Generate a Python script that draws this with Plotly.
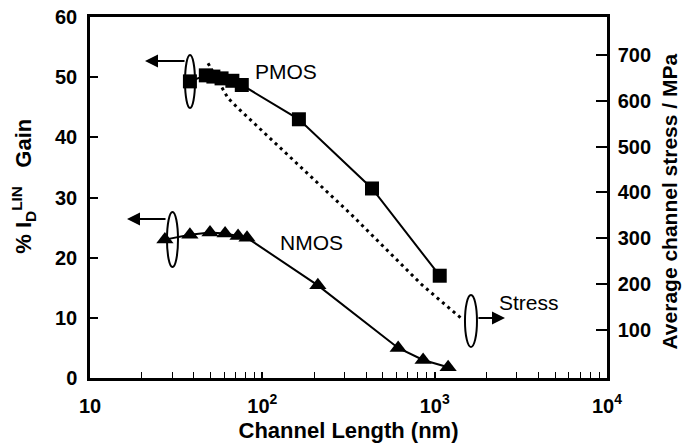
import plotly.graph_objects as go

# ---- data ----
pmos_len = [38, 47, 52, 58, 67, 76, 163, 433, 1070]
pmos_gain = [49.3, 50.3, 50.1, 49.8, 49.4, 48.7, 43.0, 31.5, 17.0]

nmos_len = [27.2, 38, 49.7, 60.8, 72.3, 81.5, 210, 614, 857, 1197]
nmos_gain = [23.0, 23.8, 24.2, 24.0, 23.6, 23.3, 15.4, 5.0, 3.0, 1.8]

stress_len = [48.4, 63.2, 71.3, 332, 845, 1462]
stress_mpa = [682, 606, 586, 350, 198, 122]

x_tickvals = [10, 100, 1000, 10000]
x_ticktext = ["10", "10<sup>2</sup>", "10<sup>3</sup>", "10<sup>4</sup>"]
y_tickvals = [0, 10, 20, 30, 40, 50, 60]
y2_tickvals = [100, 200, 300, 400, 500, 600, 700]

FONT = "Arial, 'Liberation Sans', sans-serif"

fig = go.Figure()
fig.add_trace(go.Scatter(
    x=stress_len, y=stress_mpa, yaxis="y2", mode="lines",
    line=dict(color="black", width=3, dash="3px,4px"), name="Stress"))
fig.add_trace(go.Scatter(
    x=pmos_len, y=pmos_gain, mode="lines+markers",
    line=dict(color="black", width=2),
    marker=dict(symbol="square", size=14, color="black"), name="PMOS"))
fig.add_trace(go.Scatter(
    x=nmos_len, y=nmos_gain, mode="lines+markers",
    line=dict(color="black", width=2),
    marker=dict(symbol="triangle-up", size=15, color="black"), name="NMOS"))

axis_font = dict(family=FONT, size=20, color="black", weight="bold")
title_font = dict(family=FONT, size=22, color="black", weight="bold")

fig.update_layout(
    width=683, height=445,
    margin=dict(l=90, r=76, t=17, b=67),
    paper_bgcolor="white", plot_bgcolor="white",
    showlegend=False,
    font=dict(family=FONT, color="black"),
    xaxis=dict(
        type="log", range=[1, 4], automargin=False,
        tickvals=x_tickvals, ticktext=x_ticktext,
        ticks="inside", ticklen=6, tickwidth=1.5, tickcolor="black",
        minor=dict(ticks="inside", ticklen=6, tickwidth=1, tickcolor="black", dtick="D1"),
        showline=True, linecolor="black", linewidth=2.5, mirror=True,
        showgrid=False, zeroline=False,
        tickfont=axis_font, ticklabelstandoff=8,
        title=dict(text="Channel Length (nm)", font=title_font, standoff=7),
    ),
    yaxis=dict(
        range=[0, 60], tickvals=y_tickvals, automargin=False,
        ticks="inside", ticklen=8, tickwidth=2, tickcolor="black",
        showline=True, linecolor="black", linewidth=2.5,
        showgrid=False, zeroline=False,
        tickfont=axis_font, ticklabelstandoff=6,
    ),
    yaxis2=dict(
        overlaying="y", side="right", automargin=False,
        range=[-5, 783], tickvals=y2_tickvals,
        ticks="inside", ticklen=11, tickwidth=2, tickcolor="black",
        showline=True, linecolor="black", linewidth=2.5,
        showgrid=False, zeroline=False,
        tickfont=axis_font, ticklabelstandoff=4,
    ),
)

# rotated axis titles placed as annotations (paper coords of plot area)
fig.add_annotation(x=-0.128, y=0.532, xref="paper", yref="paper",
                   text="% I<sub>D</sub><sup>LIN</sup>&nbsp;&nbsp;&nbsp;Gain",
                   textangle=-90, showarrow=False, xanchor="center", yanchor="middle",
                   font=title_font)
fig.add_annotation(x=1.119, y=0.4875, xref="paper", yref="paper",
                   text="Average channel stress / MPa",
                   textangle=-90, showarrow=False, xanchor="center", yanchor="middle",
                   font=dict(family=FONT, size=21, color="black", weight="bold"))

# ellipses (paper coordinates of the plot area)
ellipses = [
    (0.1838, 0.2031, 0.748, 0.8947),
    (0.1489, 0.1702, 0.3075, 0.4598),
    (0.7253, 0.7485, 0.0859, 0.2299),
]
for x0, x1, y0, y1 in ellipses:
    fig.add_shape(type="circle", xref="paper", yref="paper",
                  x0=x0, x1=x1, y0=y0, y1=y1,
                  line=dict(color="black", width=2), fillcolor="rgba(0,0,0,0)")

# arrows
arrows = [
    (0.1064, 0.878, 41),
    (0.0716, 0.4404, 40),
    (0.8027, 0.1662, -28),
]
for x, y, ax in arrows:
    fig.add_annotation(x=x, y=y, xref="paper", yref="paper", text="",
                       showarrow=True, ax=ax, ay=0, axref="pixel", ayref="pixel",
                       arrowhead=2, arrowsize=1.3, arrowwidth=2, arrowcolor="black")

labels = [
    ("PMOS", 0.379, 0.850),
    ("NMOS", 0.4275, 0.374),
    ("Stress", 0.849, 0.2105),
]
for t, x, y in labels:
    fig.add_annotation(x=x, y=y, xref="paper", yref="paper", text=t,
                       showarrow=False, xanchor="center", yanchor="middle",
                       font=dict(family=FONT, size=21, color="black"))

fig.write_html(
    "out.html",
    config={"displayModeBar": False},
    post_script="document.body.style.margin='0';document.body.style.overflow='hidden';",
)
